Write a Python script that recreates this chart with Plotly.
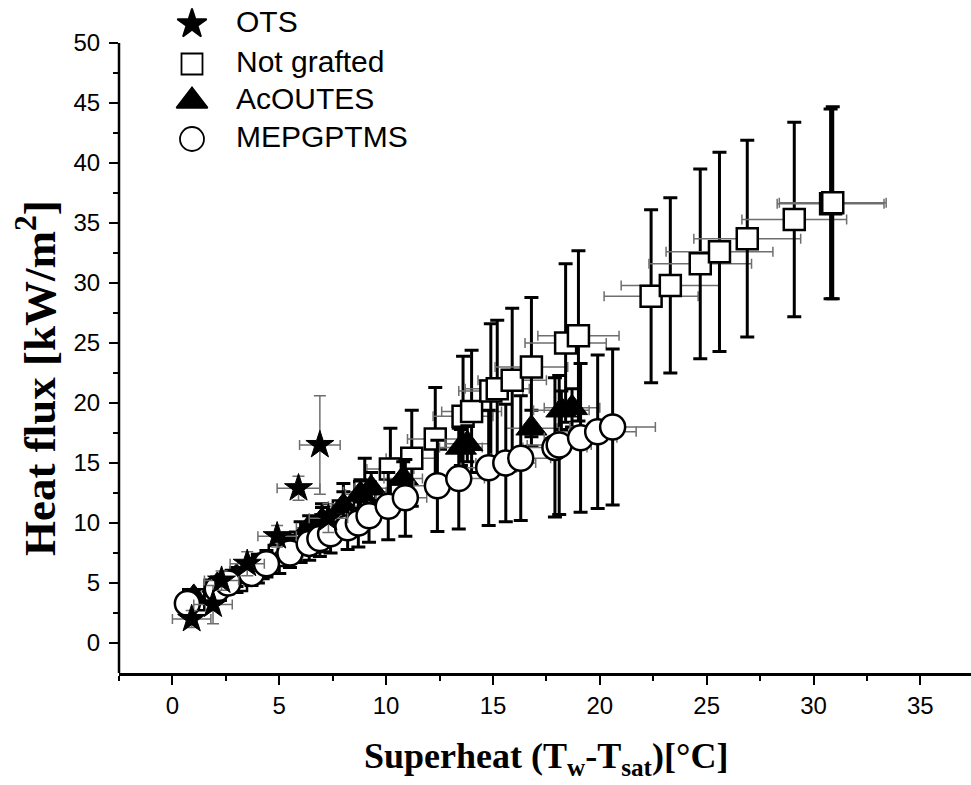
import plotly.graph_objects as go

# ---------------- data ----------------
# OTS (stars)
ots_x = [0.9, 1.9, 2.3, 3.5, 4.9, 5.9, 6.9, 7.3]
ots_y = [2.0, 3.2, 5.2, 6.6, 8.9, 12.9, 16.5, 10.4]
ots_xerr = [0.9, 0.9, 0.8, 0.8, 0.9, 1.0, 0.95, 0.9]
ots_yerr = [0.7, 1.6, 0.8, 1.0, 0.9, 1.0, 4.1, 1.2]

# Not grafted (open squares)
sq_x = [1.0, 2.0, 3.0, 4.0, 5.0, 6.0, 7.0, 8.0, 9.0, 10.2, 11.2, 12.3, 13.6, 14.0,
        14.9, 15.2, 15.9, 16.8, 18.4, 19.0, 22.4, 23.3, 24.7, 25.6, 26.9, 29.1, 30.8, 30.9]
sq_y = [3.6, 4.4, 5.2, 6.2, 7.3, 8.4, 9.6, 11.0, 12.6, 14.5, 15.4, 17.0, 18.9, 19.3,
        21.0, 21.2, 21.9, 23.0, 25.0, 25.6, 28.9, 29.8, 31.6, 32.6, 33.7, 35.3, 36.6, 36.7]
sq_yerr = [0.7, 0.9, 1.0, 1.2, 1.5, 1.7, 2.0, 2.3, 2.8, 3.4, 4.0, 4.3, 5.0, 5.1,
           5.6, 5.7, 6.0, 5.8, 6.6, 7.1, 7.2, 7.3, 7.9, 8.3, 8.2, 8.1, 7.9, 8.0]
sq_xerr = [0.4, 0.5, 0.5, 0.6, 0.7, 0.8, 0.9, 1.0, 1.0, 1.1, 1.2, 1.3, 1.4, 1.4,
           1.5, 1.5, 1.6, 1.7, 1.9, 1.9, 2.2, 2.3, 2.4, 2.5, 2.5, 2.45, 2.5, 2.5]

# AcOUTES (filled triangles)
tri_x = [1.0, 2.1, 3.0, 4.0, 5.5, 6.4, 7.0, 8.0, 8.8, 9.3, 10.8, 13.5, 13.8, 16.8, 18.2, 18.7]
tri_y = [3.8, 4.8, 5.5, 6.4, 8.0, 9.6, 10.2, 11.4, 12.4, 12.9, 13.7, 16.3, 16.6, 17.9, 19.4, 19.6]
tri_yerr = [0.6, 0.7, 0.8, 0.9, 1.0, 1.0, 1.1, 1.2, 1.2, 1.3, 1.4, 1.5, 1.5, 1.5, 1.6, 1.6]
tri_xerr = [0.3, 0.4, 0.4, 0.5, 0.5, 0.6, 0.6, 0.7, 0.7, 0.8, 0.9, 1.0, 1.0, 1.2, 1.3, 1.3]

# MEPGPTMS (open circles)
circ_x = [0.7, 2.1, 2.6, 3.7, 4.4, 5.5, 6.4, 6.9, 7.4, 8.2, 8.7, 9.2,
          10.1, 10.9, 12.4, 13.4, 14.8, 15.6, 16.3, 17.9, 18.1, 19.1, 19.9, 20.6]
circ_y = [3.3, 4.5, 5.0, 5.8, 6.6, 7.5, 8.3, 8.7, 9.1, 9.6, 10.0, 10.6,
          11.4, 12.1, 13.1, 13.7, 14.6, 15.0, 15.4, 16.3, 16.5, 17.1, 17.6, 18.0]
circ_yerr = [0.8, 0.9, 0.9, 1.0, 1.1, 1.2, 1.4, 1.5, 1.6, 1.8, 2.0, 2.2,
             2.8, 3.2, 3.8, 4.2, 4.8, 4.9, 5.2, 5.8, 5.8, 6.2, 6.4, 6.5]
circ_xerr = [0.3, 0.4, 0.4, 0.5, 0.5, 0.6, 0.6, 0.7, 0.7, 0.8, 0.8, 0.9,
             0.9, 1.0, 1.1, 1.2, 1.3, 1.4, 1.4, 1.5, 1.5, 1.7, 1.8, 2.0]

series_names = ["OTS", "Not grafted", "AcOUTES", "MEPGPTMS"]

# ---------------- styling ----------------
BLACK = "#000000"
GRAY = "#6e6e6e"
TICK_FONT = dict(family="Liberation Sans, Arial, sans-serif", size=24, color=BLACK)
SERIF = "Liberation Serif, Times New Roman, serif"

Y_MIN, Y_TOP_TICK = -2.5, 50
PLOT_H = 673          # plot area height in px (top margin 0)
PX_PER_Y = 11.98
Y_MAX = Y_TOP_TICK + 43 / PX_PER_Y   # leave room above the axis for the legend


def ey(vals, color, thick, width):
    return dict(type="data", array=vals, visible=True, color=color, thickness=thick, width=width)


fig = go.Figure()

fig.add_trace(go.Scatter(
    x=sq_x, y=sq_y, mode="markers", name=series_names[1],
    error_y=ey(sq_yerr, BLACK, 3, 7), error_x=ey(sq_xerr, GRAY, 1.5, 5),
    marker=dict(symbol="square", size=21, color="white", line=dict(color=BLACK, width=2.5)),
    showlegend=False))

fig.add_trace(go.Scatter(
    x=tri_x, y=tri_y, mode="markers", name=series_names[2],
    error_y=ey(tri_yerr, BLACK, 3, 7), error_x=ey(tri_xerr, GRAY, 1.5, 5),
    marker=dict(symbol="triangle-up", size=27, color=BLACK, line=dict(color=BLACK, width=1)),
    showlegend=False))

fig.add_trace(go.Scatter(
    x=circ_x, y=circ_y, mode="markers", name=series_names[3],
    error_y=ey(circ_yerr, BLACK, 3, 7), error_x=ey(circ_xerr, GRAY, 1.5, 5),
    marker=dict(symbol="circle", size=25, color="white", line=dict(color=BLACK, width=2.5)),
    showlegend=False))

fig.add_trace(go.Scatter(
    x=ots_x, y=ots_y, mode="markers", name=series_names[0],
    error_y=ey(ots_yerr, GRAY, 1.5, 6), error_x=ey(ots_xerr, GRAY, 1.5, 5),
    marker=dict(symbol="star", size=21, color=BLACK, line=dict(color=BLACK, width=1)),
    showlegend=False))

# ---------------- legend (drawn on a pixel overlay axis) ----------------
leg_symbols = ["star", "square", "triangle-up", "circle"]
leg_sizes = [22, 21, 27, 24]
leg_fill = [BLACK, "white", BLACK, "white"]
leg_px_y = [24, 64, 101, 139]
for sym, sz, fill, py, name in zip(leg_symbols, leg_sizes, leg_fill, leg_px_y, series_names):
    fig.add_trace(go.Scatter(
        x=[192], y=[py], xaxis="x2", yaxis="y2", mode="markers", cliponaxis=False,
        marker=dict(symbol=sym, size=sz, color=fill, line=dict(color=BLACK, width=1.8)),
        showlegend=False, hoverinfo="skip"))
    fig.add_trace(go.Scatter(
        x=[236], y=[py], xaxis="x2", yaxis="y2", mode="text", cliponaxis=False,
        text=[name], textposition="middle right",
        textfont=dict(family="Liberation Sans, Arial, sans-serif", size=30, color=BLACK),
        showlegend=False, hoverinfo="skip"))

axis_common = dict(
    showgrid=False, zeroline=False,
    ticks="outside", ticklen=9, tickwidth=2, tickcolor=BLACK,
    tickfont=TICK_FONT,
)

minor_y = [2.5 + 5 * i for i in range(10)]

fig.update_layout(
    width=971, height=785,
    paper_bgcolor="white", plot_bgcolor="white",
    margin=dict(l=119, r=0, t=0, b=785 - PLOT_H, autoexpand=False),
    showlegend=False,
    xaxis=dict(range=[-2.5, 37.37], tick0=0, dtick=5,
               showline=True, linecolor=BLACK, linewidth=2.5, mirror=False,
               minor=dict(dtick=2.5, ticks="outside", ticklen=5, tickwidth=2, tickcolor=BLACK),
               **axis_common),
    yaxis=dict(range=[Y_MIN, Y_MAX], tick0=0, dtick=5, showline=False, ticklabelstandoff=4,
               minor=dict(tickmode="array", tickvals=minor_y, ticks="outside",
                          ticklen=5, tickwidth=2, tickcolor=BLACK),
               **axis_common),
    xaxis2=dict(overlaying="x", range=[119, 971], visible=False, fixedrange=True),
    yaxis2=dict(overlaying="y", range=[PLOT_H, 0], visible=False, fixedrange=True),
    shapes=[dict(type="line", xref="paper", yref="y", x0=0, x1=0, y0=Y_MIN, y1=Y_TOP_TICK,
                 line=dict(color=BLACK, width=2.5))],
    annotations=[
        dict(text="<b>Superheat (T<sub>w</sub>-T<sub>sat</sub>)[°C]</b>",
             xref="paper", yref="paper", x=(546 - 119) / 852, y=(PLOT_H - 758) / PLOT_H,
             xanchor="center", yanchor="middle",
             showarrow=False, font=dict(family=SERIF, size=36, color=BLACK)),
        dict(text="<b>Heat flux [kW/m<sup>2</sup>]</b>",
             xref="paper", yref="paper", x=(36 - 119) / 852, y=(PLOT_H - 378) / PLOT_H,
             xanchor="center", yanchor="middle",
             textangle=-90, showarrow=False, font=dict(family=SERIF, size=45, color=BLACK)),
    ],
)

fig.write_html("out.html", config={"displayModeBar": False},
               post_script="document.body.style.margin='0';")
